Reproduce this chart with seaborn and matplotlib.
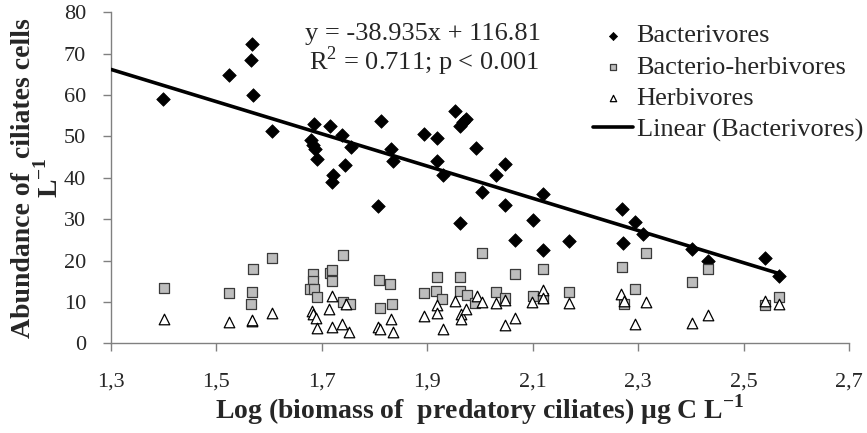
import matplotlib
matplotlib.use("Agg")
import matplotlib.pyplot as plt
import seaborn as sns
import numpy as np
import pandas as pd

# ---- data ----
bact_x = [1.399, 1.524, 1.568, 1.566, 1.570, 1.606, 1.679, 1.683, 1.687, 1.691,
          1.686, 1.715, 1.739, 1.755, 1.744, 1.721, 1.719, 1.812, 1.832, 1.835,
          1.807, 1.893, 1.918, 1.918, 1.929, 1.953, 1.962, 1.967, 1.973, 1.963,
          1.993, 2.003, 2.031, 2.048, 2.048, 2.067, 2.100, 2.119, 2.119, 2.169,
          2.269, 2.272, 2.294, 2.310, 2.403, 2.433, 2.541, 2.568]
bact_y = [59.0, 64.8, 72.3, 68.4, 60.0, 51.2, 49.1, 48.0, 47.0, 44.5,
          52.9, 52.5, 50.4, 47.5, 43.1, 40.6, 39.0, 53.8, 46.9, 44.1,
          33.1, 50.5, 49.5, 44.1, 40.6, 56.1, 52.5, 53.4, 54.3, 29.0,
          47.1, 36.6, 40.7, 43.3, 33.4, 24.9, 29.8, 36.0, 22.6, 24.7,
          32.4, 24.2, 29.3, 26.5, 22.7, 19.9, 20.5, 16.3]

bh_x = [1.401, 1.524, 1.570, 1.568, 1.566, 1.605, 1.684, 1.683, 1.678, 1.686,
        1.691, 1.715, 1.720, 1.719, 1.741, 1.741, 1.753, 1.809, 1.830, 1.811,
        1.834, 1.894, 1.918, 1.917, 1.927, 1.963, 1.963, 1.975, 1.990, 2.003,
        2.031, 2.048, 2.067, 2.100, 2.119, 2.119, 2.168, 2.269, 2.314, 2.294,
        2.273, 2.403, 2.432, 2.541, 2.568]
bh_y = [13.3, 12.2, 18.0, 12.4, 9.4, 20.5, 16.7, 15.1, 13.1, 13.2,
        11.2, 17.1, 17.7, 15.1, 21.3, 10.0, 9.4, 15.2, 14.3, 8.6,
        9.6, 12.2, 16.1, 12.6, 10.8, 16.1, 12.6, 11.6, 9.8, 21.8,
        12.4, 11.0, 16.7, 11.4, 18.0, 11.0, 12.4, 18.5, 21.9, 13.1,
        9.4, 14.7, 18.0, 9.2, 11.3]

herb_x = [1.400, 1.524, 1.568, 1.568, 1.605, 1.681, 1.684, 1.689, 1.690, 1.720,
          1.714, 1.719, 1.739, 1.746, 1.752, 1.807, 1.811, 1.832, 1.835, 1.894,
          1.918, 1.918, 1.929, 1.953, 1.964, 1.964, 1.973, 1.994, 2.003, 2.030,
          2.048, 2.048, 2.067, 2.098, 2.119, 2.119, 2.169, 2.268, 2.273, 2.314,
          2.294, 2.403, 2.432, 2.541, 2.568]
herb_y = [5.8, 5.2, 5.4, 5.6, 7.3, 7.8, 7.0, 6.0, 3.8, 11.4,
          8.2, 4.0, 4.6, 9.4, 2.7, 4.0, 3.4, 5.8, 2.7, 6.6,
          9.2, 7.3, 3.4, 10.2, 7.0, 5.8, 8.2, 11.4, 10.0, 9.7,
          10.5, 4.4, 6.2, 10.0, 12.9, 11.0, 9.7, 11.8, 10.2, 10.0,
          4.6, 4.8, 6.8, 10.2, 9.4]

slope = -38.935
intercept = 116.81
x_ticks = [1.3, 1.5, 1.7, 1.9, 2.1, 2.3, 2.5, 2.7]
x_tick_labels = ["1,3", "1,5", "1,7", "1,9", "2,1", "2,3", "2,5", "2,7"]
y_ticks = [0, 10, 20, 30, 40, 50, 60, 70, 80]

# ---- figure ----
sns.set_theme(style="white")
plt.rcParams["font.family"] = ["Liberation Serif", "DejaVu Serif"]
plt.rcParams["mathtext.fontset"] = "custom"
plt.rcParams["mathtext.rm"] = "Liberation Serif"
plt.rcParams["mathtext.bf"] = "Liberation Serif:bold"

W, H = 867, 433
fig = plt.figure(figsize=(W / 100, H / 100), dpi=100)
ax = fig.add_axes([111 / W, 1 - 343.3 / H, (849 - 111) / W, (343.3 - 12.3) / H])

sns.scatterplot(x=bact_x, y=bact_y, ax=ax, marker="D", s=48, color="black",
                edgecolor="black", linewidth=0.5, label="Bacterivores", zorder=3)
sns.scatterplot(x=bh_x, y=bh_y, ax=ax, marker="s", s=58, color="#BDBDBD",
                edgecolor="#3a3a3a", linewidth=0.9, label="Bacterio-herbivores", zorder=4)
sns.scatterplot(x=herb_x, y=herb_y, ax=ax, marker="^", s=58, color="white",
                edgecolor="black", linewidth=0.9, label="Herbivores", zorder=5)

line_x = np.array([1.3, max(bact_x)])
line_df = pd.DataFrame({"x": line_x, "y": slope * line_x + intercept})
sns.lineplot(data=line_df, x="x", y="y", ax=ax, color="black", linewidth=2.6,
             label="Linear (Bacterivores)", zorder=6)

ax.set_xlim(1.3, 2.7)
ax.set_ylim(0, 80)
ax.set_xticks(x_ticks)
ax.set_xticklabels(x_tick_labels)
ax.set_yticks(y_ticks)
ax.tick_params(axis="both", which="major", labelsize=16, direction="out",
               length=6, width=1, color="#808080", bottom=True, left=True)
ax.tick_params(axis="x", pad=15)
ax.tick_params(axis="y", pad=12)
for side in ["top", "right"]:
    ax.spines[side].set_visible(False)
for side in ["left", "bottom"]:
    ax.spines[side].set_color("#808080")
    ax.spines[side].set_linewidth(1.0)

ax.set_xlabel(r"Log (biomass of  predatory ciliates) μg C L$^{\mathbf{-1}}$",
              fontsize=20, fontweight="bold", labelpad=1)
ax.set_ylabel("Abundance of  ciliates cells\n" + r"L$^{\mathbf{-1}}$", fontsize=20,
              fontweight="bold", linespacing=0.95)
ax.yaxis.set_label_coords(-0.064, 0.5)

fig.text(423 / W, 1 - 34 / H, "y = -38.935x + 116.81", ha="center", va="center",
         fontsize=19)
fig.text(424 / W, 1 - 61 / H, "R$^2$ = 0.711; p < 0.001", ha="center", va="center",
         fontsize=19)

leg = ax.legend(loc="upper left", bbox_to_anchor=(593 / W, 1 - 24 / H),
                bbox_transform=fig.transFigure, frameon=False, fontsize=19,
                markerscale=0.6, handlelength=1.5, handletextpad=0.15,
                labelspacing=0.3, borderpad=0, borderaxespad=0)

fig.savefig("out.png", dpi=100)
